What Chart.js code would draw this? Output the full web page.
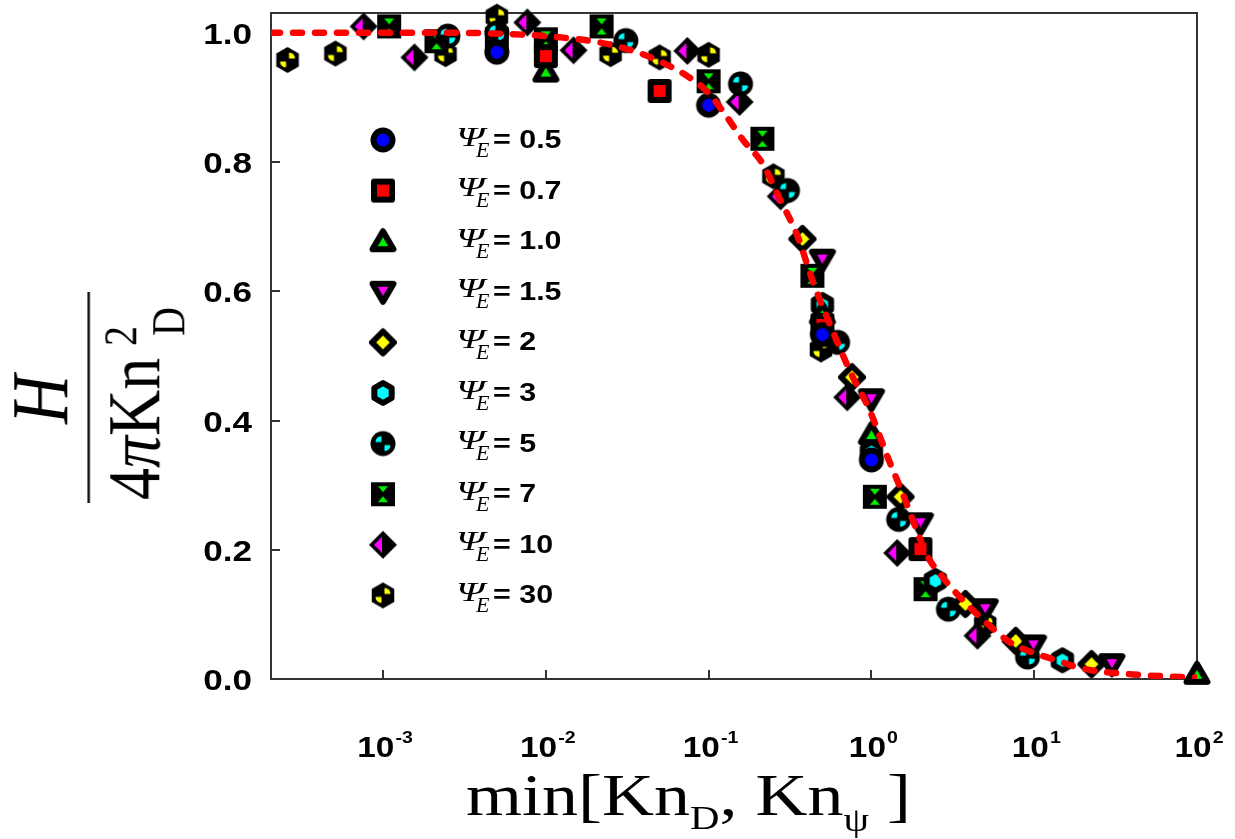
<!DOCTYPE html>
<html>
<head>
<meta charset="utf-8">
<script src="https://cdn.jsdelivr.net/npm/chart.js@4.4.1/dist/chart.umd.min.js"></script>
<style>
  body { margin: 0; background: #fff; }
  #wrap { position: relative; width: 1235px; height: 839px; overflow: hidden; }
  #c { position: absolute; left: 0; top: 0; }
  .t { position: absolute; line-height: 1; white-space: nowrap; color: #000; transform-origin: 0 0; }
  #ytitle { position: absolute; left: 15px; top: 512px; width: 230px; height: 150px;
            transform-origin: 0 0; transform: rotate(-90deg) scaleY(1.17); }
</style>
</head>
<body>
<div id="wrap">
  <canvas id="c" width="1235" height="839"></canvas>
  <div id="ytitle"></div>
</div>
<script>
// legend names and series (x = min[KnD, Knpsi], y = H / 4 pi KnD^2)
const seriesNames = ['0.5', '0.7', '1.0', '1.5', '2', '3', '5', '7', '10', '30'];

const psi05X = [0.005, 0.1, 0.5, 1.0];
const psi05Y = [0.970, 0.888, 0.533, 0.339];
const psi07X = [0.01, 0.05, 0.5, 2.0];
const psi07Y = [0.964, 0.910, 0.548, 0.201];
const psi10X = [0.01, 0.5, 1.0, 100];
const psi10Y = [0.940, 0.565, 0.379, 0.008];
const psi15X = [0.5, 1.0, 2.0, 5.0, 9.9, 30];
const psi15Y = [0.649, 0.433, 0.241, 0.108, 0.052, 0.023];
const psi2X = [0.377, 0.76, 1.51, 3.78, 7.7, 22.5];
const psi2Y = [0.681, 0.467, 0.282, 0.116, 0.059, 0.023];
const psi3X = [0.5, 1.0, 2.47, 14.9];
const psi3Y = [0.579, 0.351, 0.152, 0.029];
const psi5X = [0.0025, 0.005, 0.031, 0.157, 0.305, 0.62, 1.47, 2.97, 9.1];
const psi5Y = [0.995, 1.000, 0.988, 0.921, 0.756, 0.521, 0.247, 0.108, 0.034];
const psi7X = [0.00109, 0.00213, 0.005, 0.01, 0.022, 0.1, 0.214, 0.434, 1.05, 2.15];
const psi7Y = [1.010, 0.987, 0.990, 0.990, 1.010, 0.925, 0.836, 0.624, 0.282, 0.139];
const psi10bX = [0.00076, 0.00156, 0.0077, 0.0148, 0.074, 0.155, 0.277, 0.71, 1.44, 4.48];
const psi10bY = [1.010, 0.962, 1.016, 0.973, 0.972, 0.893, 0.747, 0.436, 0.195, 0.067];
const psi30X = [0.000259, 0.00051, 0.00242, 0.005, 0.025, 0.05, 0.1, 0.25, 0.49, 5.0];
const psi30Y = [0.958, 0.968, 0.967, 1.025, 0.967, 0.962, 0.966, 0.778, 0.510, 0.085];

// fitted curve (red dashes)
const curveX = [0.000205, 0.001, 0.003, 0.006, 0.01, 0.0215, 0.0345, 0.05, 0.074, 0.098, 0.122,
                0.164, 0.214, 0.276, 0.351, 0.44, 0.56, 0.743, 0.986, 1.25, 1.55, 1.86, 2.19,
                2.75, 3.52, 5.13, 7.08, 10, 12.6, 20, 40.7, 100];
const curveY = [1.0, 1.0, 1.0, 0.998, 0.995, 0.985, 0.972, 0.956, 0.933, 0.909, 0.879,
                0.833, 0.798, 0.741, 0.686, 0.613, 0.547, 0.475, 0.413, 0.345, 0.288, 0.236, 0.192,
                0.157, 0.126, 0.086, 0.057, 0.040, 0.032, 0.016, 0.007, 0.002];

const xTickValues = [1e-3, 1e-2, 1e-1, 1, 10, 100];
const xTickExps = ['-3', '-2', '-1', '0', '1', '2'];
const yTickValues = [0, 0.2, 0.4, 0.6, 0.8, 1.0];

// marker pictures, one per series
function makeMarker(kind, color) {
    const cv = document.createElement('canvas');
    cv.width = 32; cv.height = 32;
    const g = cv.getContext('2d');
    const c = 16;
    g.lineJoin = 'round';
    g.strokeStyle = '#000';
    g.fillStyle = color;
    g.lineWidth = 6;
    const poly = pts => {
        g.beginPath();
        pts.forEach((p, i) => i ? g.lineTo(c + p[0], c + p[1]) : g.moveTo(c + p[0], c + p[1]));
        g.closePath();
    };
    const hexPts = r => [0, 1, 2, 3, 4, 5].map(k => {
        const a = (k * 60 - 90) * Math.PI / 180;
        return [r * Math.cos(a), r * Math.sin(a)];
    });
    const sector = (dx, dy, a0, a1, r) => {
        g.beginPath();
        g.moveTo(c + dx, c + dy);
        g.arc(c + dx, c + dy, r, a0, a1);
        g.closePath();
        g.fill();
    };
    switch (kind) {
        case 'circle':
            g.beginPath(); g.arc(c, c, 9.5, 0, 2 * Math.PI); g.fill(); g.stroke(); break;
        case 'square':
            poly([[-9, -9], [9, -9], [9, 9], [-9, 9]]); g.fill(); g.stroke(); break;
        case 'triUp':
            poly([[0, -10], [10.5, 8], [-10.5, 8]]); g.fill(); g.stroke(); break;
        case 'triDown':
            poly([[0, 10], [10.5, -8], [-10.5, -8]]); g.fill(); g.stroke(); break;
        case 'diamond':
            poly([[0, -11], [11, 0], [0, 11], [-11, 0]]); g.fill(); g.stroke(); break;
        case 'hex':
            poly(hexPts(10)); g.fill(); g.stroke(); break;
        case 'circleQ':
            g.fillStyle = '#000';
            g.beginPath(); g.arc(c, c, 12.5, 0, 2 * Math.PI); g.fill();
            g.fillStyle = color;
            sector(-1.5, -1.5, Math.PI, 1.5 * Math.PI, 6);
            sector(1.5, 1.5, 0, 0.5 * Math.PI, 6);
            break;
        case 'squareH':
            g.fillStyle = '#000';
            g.fillRect(c - 12, c - 12, 24, 24);
            g.fillStyle = color;
            poly([[-5, -8], [5, -8], [0, -2]]); g.fill();
            poly([[-5, 8], [5, 8], [0, 2]]); g.fill();
            break;
        case 'diamondH':
            g.fillStyle = '#000';
            poly([[0, -14], [14, 0], [0, 14], [-14, 0]]); g.fill();
            g.fillStyle = color;
            poly([[-1, -8], [-1, 8], [-9, 0]]); g.fill();
            break;
        case 'hexQ':
            g.fillStyle = '#000';
            poly(hexPts(13)); g.fill();
            g.fillStyle = color;
            sector(1.5, -1.5, 1.5 * Math.PI, 2 * Math.PI, 6);
            sector(-1.5, 1.5, 0.5 * Math.PI, Math.PI, 6);
            break;
    }
    return cv;
}

const markers = [
    makeMarker('circle', '#0000ff'),
    makeMarker('square', '#ff0000'),
    makeMarker('triUp', '#00ee00'),
    makeMarker('triDown', '#ff00ff'),
    makeMarker('diamond', '#ffff00'),
    makeMarker('hex', '#00ffff'),
    makeMarker('circleQ', '#00ffff'),
    makeMarker('squareH', '#00ee00'),
    makeMarker('diamondH', '#ff00ff'),
    makeMarker('hexQ', '#ffff00')
];

const allX = [psi05X, psi07X, psi10X, psi15X, psi2X, psi3X, psi5X, psi7X, psi10bX, psi30X];
const allY = [psi05Y, psi07Y, psi10Y, psi15Y, psi2Y, psi3Y, psi5Y, psi7Y, psi10bY, psi30Y];

const datasets = [{
    label: 'fit',
    data: curveX.map((x, i) => ({ x: x, y: curveY[i] })),
    showLine: true,
    borderColor: '#ff0000',
    borderWidth: 6.5,
    borderDash: [9, 13],
    borderCapStyle: 'round',
    cubicInterpolationMode: 'monotone',
    pointRadius: 0,
    order: 0
}];
seriesNames.forEach((name, i) => {
    datasets.push({
        label: 'ΨE = ' + name,
        data: allX[i].map((x, j) => ({ x: x, y: allY[i][j] })),
        pointStyle: markers[i],
        pointRadius: 12,
        clip: false,
        order: 1
    });
});

const legendTop = 140, legendStep = 50.6, legendMarkerX = 383;
const sans = '"Liberation Sans", Arial, sans-serif';
const serif = '"Liberation Serif", "Times New Roman", serif';

// frame, inner ticks, tick labels and legend markers
const framePlugin = {
    id: 'frame',
    beforeDatasetsDraw(chart) {
        const ctx = chart.ctx, a = chart.chartArea;
        const xs = chart.scales.x, ys = chart.scales.y;
        ctx.save();
        ctx.strokeStyle = '#333';
        ctx.lineWidth = 2;
        ctx.strokeRect(a.left, a.top, a.right - a.left, a.bottom - a.top);
        ctx.beginPath();
        yTickValues.forEach(v => {
            const y = Math.round(ys.getPixelForValue(v));
            ctx.moveTo(a.left, y); ctx.lineTo(a.left + 9, y);
        });
        xTickValues.forEach(v => {
            const x = Math.round(xs.getPixelForValue(v));
            ctx.moveTo(x, a.bottom); ctx.lineTo(x, a.bottom - 9);
        });
        ctx.stroke();

        ctx.fillStyle = '#000';
        ctx.textBaseline = 'alphabetic';
        yTickValues.forEach(v => {
            const y = ys.getPixelForValue(v);
            ctx.font = 'bold 30px ' + sans;
            const txt = v.toFixed(1);
            const w = ctx.measureText(txt).width * 1.17;
            ctx.save();
            ctx.translate(a.left - 19 - w, y + 11);
            ctx.scale(1.17, 1);
            ctx.fillText(txt, 0, 0);
            ctx.restore();
        });
        xTickValues.forEach((v, i) => {
            const x = xs.getPixelForValue(v);
            ctx.font = 'bold 29px ' + sans;
            const w10 = ctx.measureText('10').width;
            ctx.font = 'bold 17px ' + sans;
            const wExp = ctx.measureText(xTickExps[i]).width;
            const total = (w10 + 1 + wExp) * 1.15;
            ctx.save();
            ctx.translate(x - total / 2 + 2, a.bottom + 78);
            ctx.scale(1.15, 1);
            ctx.font = 'bold 29px ' + sans;
            ctx.fillText('10', 0, 0);
            ctx.font = 'bold 17px ' + sans;
            ctx.fillText(xTickExps[i], w10 + 1, -14);
            ctx.restore();
        });
        ctx.restore();
    },
    afterDraw(chart) {
        const ctx = chart.ctx;
        markers.forEach((m, i) => {
            const y = legendTop + legendStep * i;
            ctx.drawImage(m, legendMarkerX - m.width / 2, y - m.height / 2);
        });
    }
};

new Chart(document.getElementById('c'), {
    type: 'scatter',
    data: { datasets: datasets },
    options: {
        responsive: false,
        animation: false,
        layout: { padding: { left: 0, top: 8, right: 38, bottom: 0 } },
        plugins: { legend: { display: false }, tooltip: { enabled: false } },
        scales: {
            x: {
                type: 'logarithmic',
                min: 0.000205,
                max: 100,
                grid: { display: false, drawTicks: false },
                border: { display: false },
                ticks: { display: false },
                afterBuildTicks: s => { s.ticks = xTickValues.map(v => ({ value: v })); },
                afterFit: s => { s.height = 160; }
            },
            y: {
                min: 0,
                max: 1.0307,
                grid: { display: false, drawTicks: false },
                border: { display: false },
                ticks: { display: false },
                afterBuildTicks: s => { s.ticks = yTickValues.map(v => ({ value: v })); },
                afterFit: s => { s.width = 271; }
            }
        }
    },
    plugins: [framePlugin]
});

// text placed by baseline
function addText(parent, html, o) {
    const el = document.createElement('span');
    el.className = 't';
    el.innerHTML = html;
    const k = o.family === serif ? 0.8375 : 0.8465;
    el.style.fontFamily = o.family;
    el.style.fontSize = o.size + 'px';
    el.style.fontWeight = o.weight || 'normal';
    el.style.fontStyle = o.style || 'normal';
    el.style.left = o.left + 'px';
    el.style.top = (o.baseline - k * o.size) + 'px';
    if (o.sx) el.style.transform = 'scaleX(' + o.sx + ')';
    parent.appendChild(el);
    return el;
}

const wrap = document.getElementById('wrap');

// legend labels
seriesNames.forEach((name, i) => {
    const yc = legendTop + legendStep * i;
    addText(wrap, 'Ψ', { family: serif, size: 28, style: 'italic', left: 456, baseline: yc + 6, sx: 1.45 });
    addText(wrap, 'E', { family: serif, size: 22, style: 'italic', left: 476, baseline: yc + 17 });
    addText(wrap, '= ' + name, { family: sans, size: 26, weight: 'bold', left: 493, baseline: yc + 8, sx: 1.17 });
});

// x axis title
addText(wrap,
    'min[Kn<span style="font-size:34px;vertical-align:-14px">D</span>, Kn<span style="font-size:34px;vertical-align:-16px">ψ</span> ]',
    { family: serif, size: 60, left: 466, baseline: 815, sx: 1.2 });

// y axis title (rotated fraction)
const yt = document.getElementById('ytitle');
addText(yt, 'H', { family: serif, size: 68, style: 'italic', left: 88, baseline: 45 });
const bar = document.createElement('div');
bar.style.cssText = 'position:absolute;left:9px;top:61.5px;width:211px;height:2.6px;background:#000;';
yt.appendChild(bar);
addText(yt, '4<i>π</i>Kn', { family: serif, size: 64, left: 12, baseline: 124 });
addText(yt, '2', { family: serif, size: 40, left: 166, baseline: 104 });
addText(yt, 'D', { family: serif, size: 40, left: 176, baseline: 145 });
</script>
</body>
</html>
